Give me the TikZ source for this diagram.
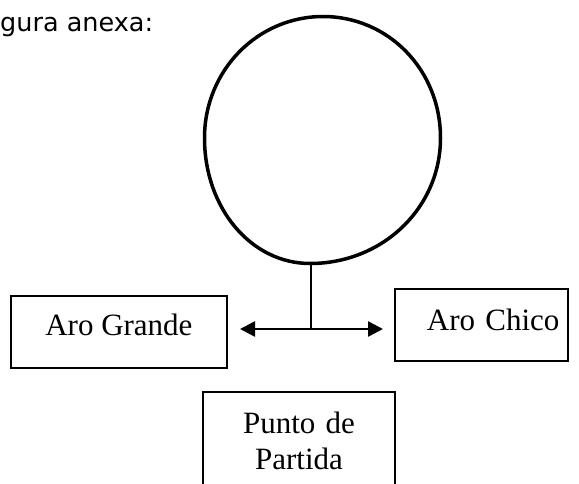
\documentclass[tikz,border=0pt]{standalone}
\usepackage{fontspec}
\setmainfont{Liberation Serif}
\newfontfamily\headfont{DejaVu Sans}
\usetikzlibrary{arrows.meta}
\begin{document}
\begin{tikzpicture}[x=1pt,y=-1pt,
  boxstyle/.style={draw, line width=1.8pt, rectangle, inner sep=0pt,
    font=\fontsize{31}{36}\selectfont},
  headtext/.style={font=\headfont\fontsize{25.5}{30}\selectfont, inner sep=0pt},
  ringline/.style={line width=3.5pt},
  stemline/.style={line width=1.6pt},
  arrowline/.style={line width=2.6pt, {Triangle[length=15pt,width=15pt]}-{Triangle[length=15pt,width=15pt]}}
]
\useasboundingbox (0,0) rectangle (579,483);
\node[headtext, anchor=base west] (head) at (0,31.5) {gura anexa:};
% ring (slightly irregular, as drawn by hand)
\coordinate (ctop) at (323,16.5);
\coordinate (cright) at (440.5,138);
\coordinate (cbot) at (310,263.5);
\coordinate (cleft) at (204.5,138);
\draw[ringline] (ctop)
  .. controls (388.5,16.5) and (440.5,70) .. (cright)
  .. controls (440.5,208) and (382.5,263.5) .. (cbot)
  .. controls (251,263.5) and (204.5,208) .. (cleft)
  .. controls (204.5,70) and (258,16.5) .. (ctop) -- cycle;
\node[boxstyle, anchor=north west, minimum width=216pt, minimum height=72pt,
  text height=21pt, text depth=13pt] (grande) at (10,295) {Aro Grande};
\node[boxstyle, anchor=north west, minimum height=72pt, text width=173pt, align=left,
  text height=21pt, text depth=9pt] (chico) at (394,288) {\hspace*{32pt}Aro Chico};
\node[boxstyle, anchor=north, text width=192pt, align=center, inner ysep=20pt] (punto) at (299,391) {Punto de\\Partida};
\coordinate (junc) at (311,329);
\coordinate (lt) at (240,329);
\coordinate (rt) at (383,329);
\draw[stemline] (junc) -- (junc |- cbot);
\draw[arrowline] (lt) -- (rt);
\end{tikzpicture}
\end{document}
